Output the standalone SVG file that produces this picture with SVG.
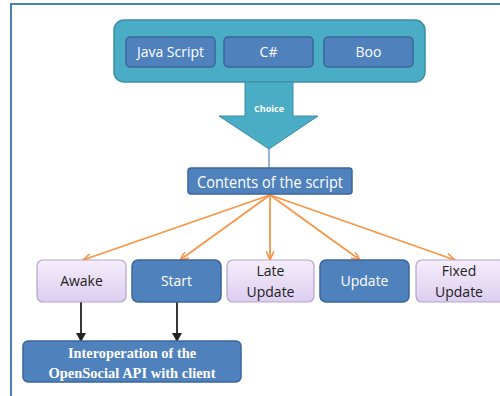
<svg xmlns="http://www.w3.org/2000/svg" width="500" height="396" viewBox="0 0 500 396">
<defs>
<linearGradient id="lav" x1="0" y1="0" x2="0" y2="1">
<stop offset="0" stop-color="#f5eefb"/>
<stop offset="1" stop-color="#dccdef"/>
</linearGradient>
<marker id="ao" markerWidth="10" markerHeight="8" refX="9" refY="4" orient="auto" markerUnits="userSpaceOnUse">
<path d="M0,0 L9,4 L0,8" fill="none" stroke="#f79646" stroke-width="1.6"/>
</marker>
<marker id="ab" markerWidth="10" markerHeight="10" refX="8" refY="5" orient="auto" markerUnits="userSpaceOnUse">
<path d="M0,0 L9,5 L0,10 Z" fill="#222"/>
</marker>
</defs>
<style>
.blue{fill:#4f81bd;stroke:#3a659a;stroke-width:1.5}
.lav{fill:url(#lav);stroke:#b4a3cb;stroke-width:1.2}
.wt{fill:#fff;font-family:"Open Sans","Liberation Sans",sans-serif;font-size:14px;text-anchor:middle}
.dt{fill:#222;font-family:"Open Sans","Liberation Sans",sans-serif;font-size:14px;text-anchor:middle}
.sr{fill:#fff;font-family:"Liberation Serif",serif;font-weight:bold;font-size:15px;text-anchor:middle}
.or{stroke:#f79646;stroke-width:1.8;fill:none;marker-end:url(#ao)}
.bk{stroke:#222;stroke-width:1.8;fill:none;marker-end:url(#ab)}
</style>
<rect width="500" height="396" fill="#fff"/>
<path d="M11,396 L11,4 L500,4" fill="none" stroke="#4a7ebb" stroke-width="2"/>

<g id="languages">
<rect x="114" y="20" width="311" height="62" rx="10" fill="#4bacc6" stroke="#3a8ea6" stroke-width="1.5"/>
</g>
<g id="javascript">
<rect class="blue" x="126" y="37" width="89" height="30" rx="4"/>
<text class="wt" x="170.5" y="57">Java Script</text>
</g>
<g id="csharp">
<rect class="blue" x="224" y="37" width="89" height="30" rx="4"/>
<text class="wt" x="268.5" y="57">C#</text>
</g>
<g id="boo">
<rect class="blue" x="324" y="37" width="89" height="30" rx="4"/>
<text class="wt" x="368.5" y="57">Boo</text>
</g>

<g id="choice">
<path d="M245,82 L293,82 L293,116 L318,116 L269,149 L219,116 L245,116 Z" fill="#4bacc6" stroke="#3a8ea6" stroke-width="1"/>
<text x="269" y="112" fill="#fff" font-family="Open Sans, Liberation Sans, sans-serif" font-size="9" font-weight="bold" text-anchor="middle">Choice</text>
</g>

<g id="connectors">
<line x1="269" y1="149" x2="269" y2="168" stroke="#4f81bd" stroke-width="1.2"/>
<line class="or" x1="270" y1="195" x2="83" y2="260"/>
<line class="or" x1="270" y1="195" x2="180" y2="260"/>
<line class="or" x1="270" y1="195" x2="270" y2="260"/>
<line class="or" x1="270" y1="195" x2="360" y2="260"/>
<line class="or" x1="270" y1="195" x2="455" y2="260"/>
<line class="bk" x1="81" y1="302" x2="81" y2="341"/>
<line class="bk" x1="177" y1="302" x2="177" y2="341"/>
</g>

<g id="contents">
<rect class="blue" x="188" y="168" width="164" height="26" rx="3"/>
<text class="wt" x="270" y="188" style="font-size:16.5px" textLength="146" lengthAdjust="spacingAndGlyphs">Contents of the script</text>
</g>

<g id="awake">
<rect class="lav" x="37" y="260" width="89" height="42" rx="6"/>
<text class="dt" x="81.5" y="286">Awake</text>
</g>
<g id="start">
<rect class="blue" x="132" y="260" width="89" height="42" rx="6"/>
<text class="wt" x="176.5" y="286">Start</text>
</g>
<g id="lateupdate">
<rect class="lav" x="227" y="260" width="87" height="42" rx="6"/>
<text class="dt" x="270.5" y="276">Late</text>
<text class="dt" x="270.5" y="297">Update</text>
</g>
<g id="update">
<rect class="blue" x="320" y="260" width="89" height="42" rx="6"/>
<text class="wt" x="364.5" y="286">Update</text>
</g>
<g id="fixedupdate">
<rect class="lav" x="416" y="260" width="89" height="42" rx="6"/>
<text class="dt" x="459" y="276">Fixed</text>
<text class="dt" x="459" y="297">Update</text>
</g>

<g id="interop">
<rect class="blue" x="23" y="341" width="218" height="41" rx="5"/>
<text class="sr" x="132" y="358" textLength="128" lengthAdjust="spacingAndGlyphs">Interoperation of the</text>
<text class="sr" x="132" y="378" textLength="167" lengthAdjust="spacingAndGlyphs">OpenSocial API with client</text>
</g>
</svg>
